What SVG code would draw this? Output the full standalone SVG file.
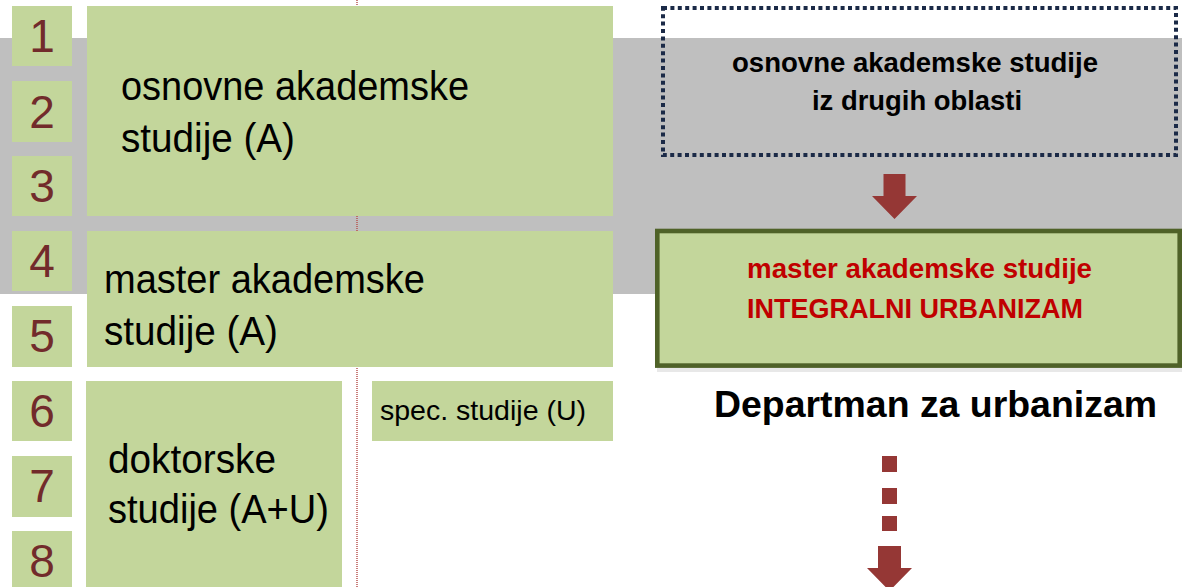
<svg xmlns="http://www.w3.org/2000/svg" width="1182" height="587" viewBox="0 0 1182 587">
<style>
.box{fill:#C3D69B}
.num{font-family:"Liberation Sans",Arial,sans-serif;font-size:46px;fill:#722B2B;text-anchor:middle}
.big{font-family:"Liberation Sans",Arial,sans-serif;font-size:40px;fill:#000}
.bold{font-family:"Liberation Sans",Arial,sans-serif;font-weight:bold;font-size:28px;fill:#000}
.red{font-family:"Liberation Sans",Arial,sans-serif;font-weight:bold;font-size:28px;fill:#C00000}
.arrow{fill:#953735}
</style>
<rect width="1182" height="587" fill="#fff"/>
<rect id="band" x="0" y="38" width="1182" height="256" fill="#BFBFBF"/>
<line x1="357" y1="0" x2="357" y2="587" stroke="#B85450" stroke-width="1.5" stroke-dasharray="1 1"/>

<g id="year-1"><rect class="box" x="12" y="6" width="60" height="60"/><text class="num" x="42" y="52">1</text></g>
<g id="year-2"><rect class="box" x="12" y="81" width="60" height="61"/><text class="num" x="42" y="128">2</text></g>
<g id="year-3"><rect class="box" x="12" y="156" width="60" height="60"/><text class="num" x="42" y="202">3</text></g>
<g id="year-4"><rect class="box" x="12" y="231" width="60" height="60"/><text class="num" x="42" y="277">4</text></g>
<g id="year-5"><rect class="box" x="12" y="306" width="60" height="61"/><text class="num" x="42" y="352">5</text></g>
<g id="year-6"><rect class="box" x="12" y="381" width="60" height="60"/><text class="num" x="42" y="427">6</text></g>
<g id="year-7"><rect class="box" x="12" y="456" width="60" height="61"/><text class="num" x="42" y="502">7</text></g>
<g id="year-8"><rect class="box" x="12" y="531" width="60" height="60"/><text class="num" x="42" y="577">8</text></g>

<g id="osnovne">
<rect class="box" x="87" y="6" width="526" height="210"/>
<text class="big" x="121" y="100" textLength="348" lengthAdjust="spacingAndGlyphs">osnovne akademske</text>
<text class="big" x="121" y="152" textLength="174" lengthAdjust="spacingAndGlyphs">studije (A)</text>
</g>
<g id="master">
<rect class="box" x="87" y="231" width="526" height="136"/>
<text class="big" x="104" y="293" textLength="321" lengthAdjust="spacingAndGlyphs">master akademske</text>
<text class="big" x="104" y="345" textLength="174" lengthAdjust="spacingAndGlyphs">studije (A)</text>
</g>
<g id="doktorske">
<rect class="box" x="86" y="381" width="256" height="210"/>
<text class="big" x="108" y="473" textLength="168" lengthAdjust="spacingAndGlyphs">doktorske</text>
<text class="big" x="108" y="523" textLength="221" lengthAdjust="spacingAndGlyphs">studije (A+U)</text>
</g>
<g id="spec">
<rect class="box" x="372" y="381" width="241" height="60"/>
<text class="big" x="380" y="420" style="font-size:28px" textLength="206" lengthAdjust="spacingAndGlyphs">spec. studije (U)</text>
</g>

<g id="other-fields">
<rect x="663" y="8" width="513" height="147" fill="none" stroke="#1B2A47" stroke-width="4" stroke-dasharray="4 3.4"/>
<text class="bold" x="915" y="72" text-anchor="middle" textLength="366" lengthAdjust="spacingAndGlyphs">osnovne akademske studije</text>
<text class="bold" x="917" y="110" text-anchor="middle" textLength="210" lengthAdjust="spacingAndGlyphs">iz drugih oblasti</text>
</g>

<g id="integralni">
<rect x="657" y="232" width="527" height="140" fill="#D9D9D9" opacity="0.6"/>
<rect x="657.3" y="231" width="522.4" height="134.6" fill="#C3D69B" stroke="#4F6228" stroke-width="4.6"/>
<text class="red" x="747" y="278" textLength="345" lengthAdjust="spacingAndGlyphs">master akademske studije</text>
<text class="red" x="747" y="318" textLength="336" lengthAdjust="spacingAndGlyphs">INTEGRALNI URBANIZAM</text>
</g>

<g id="department">
<text class="bold" x="935.5" y="417" text-anchor="middle" style="font-size:37px" textLength="443" lengthAdjust="spacingAndGlyphs">Departman za urbanizam</text>
</g>

<g id="connectors">
<polygon class="arrow" points="883.5,174 905.5,174 905.5,196 917,196 894.5,219 872,196 883.5,196"/>
<rect class="arrow" x="882" y="456" width="15" height="16"/>
<rect class="arrow" x="882" y="488" width="15" height="16"/>
<rect class="arrow" x="882" y="516" width="15" height="15"/>
<polygon class="arrow" points="878,546 901,546 901,568 912,568 889.5,591 867,568 878,568"/>
</g>
</svg>
